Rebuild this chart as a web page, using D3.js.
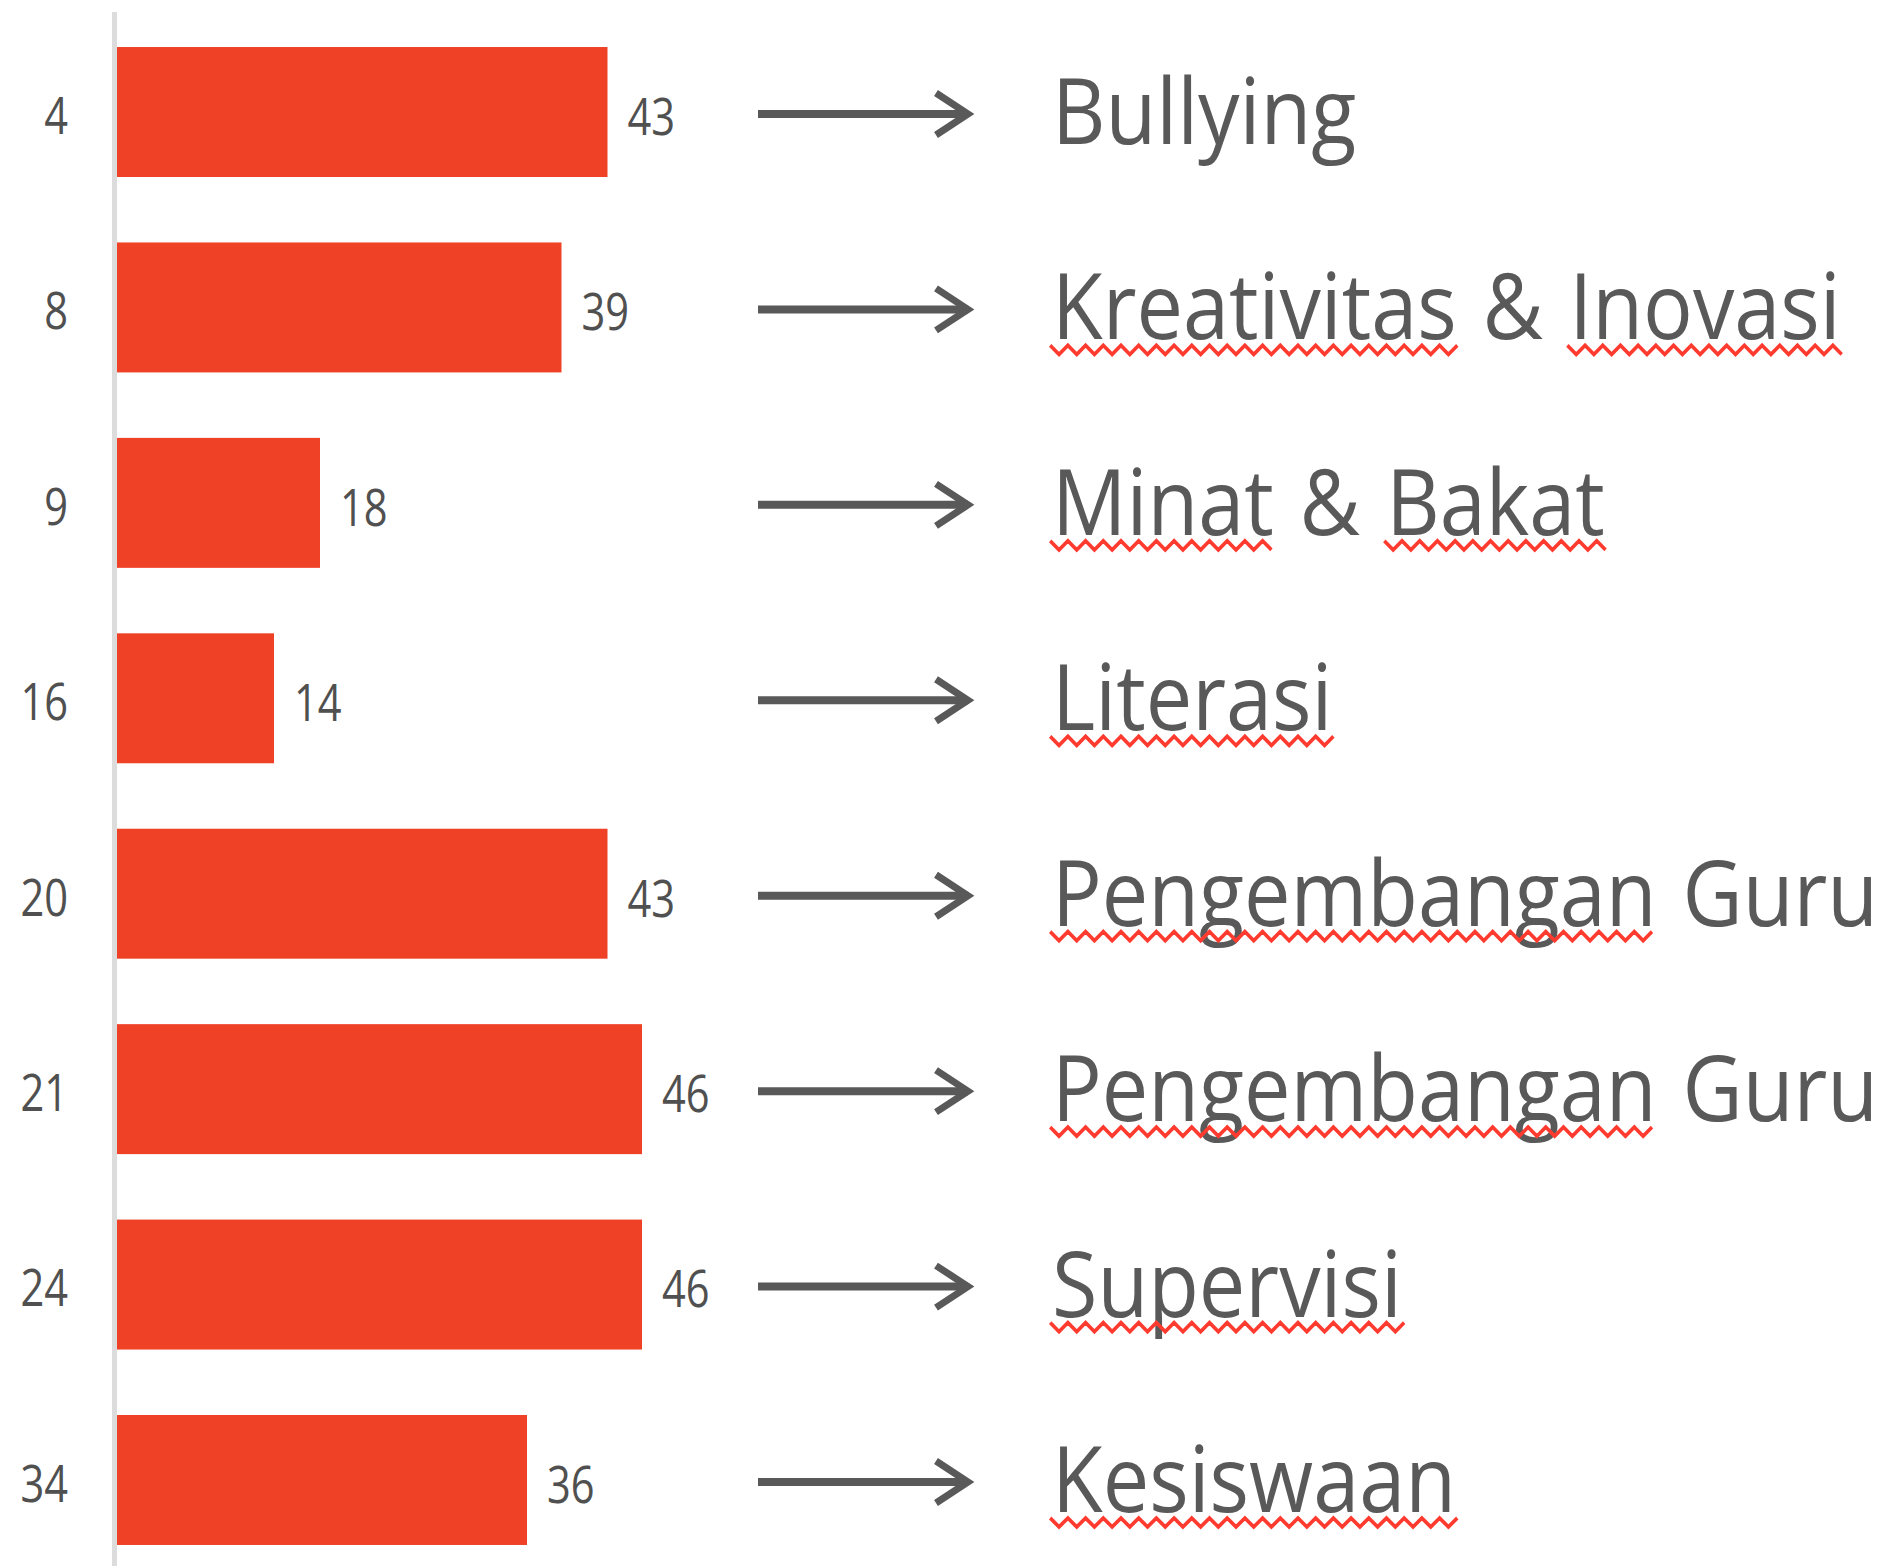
<!DOCTYPE html>
<html>
<head>
<meta charset="utf-8">
<script src="https://cdn.jsdelivr.net/npm/d3@7"></script>
<style>
  html, body { margin: 0; padding: 0; background: #ffffff; }
  svg { display: block; }
</style>
</head>
<body>
<script>
// Category ids shown on the left axis, one per bar
const categories = ["4", "8", "9", "16", "20", "21", "24", "34"];
// Bar values (also printed at the end of each bar)
const values = [43, 39, 18, 14, 43, 46, 46, 36];
// Topic text that each arrow points to
const topics = [
  "Bullying",
  "Kreativitas & Inovasi",
  "Minat & Bakat",
  "Literasi",
  "Pengembangan Guru",
  "Pengembangan Guru",
  "Supervisi",
  "Kesiswaan"
];
// Words marked with the red wavy proofing underline
const flaggedWords = ["Kreativitas", "Inovasi", "Minat", "Bakat", "Literasi",
                      "Pengembangan", "Supervisi", "Kesiswaan"];

const W = 1878, H = 1566;
const rows = categories.map((c, i) => ({ id: c, value: values[i], topic: topics[i] }));

const svg = d3.select("body").append("svg")
  .attr("width", W).attr("height", H)
  .attr("viewBox", `0 0 ${W} ${H}`);

svg.append("rect").attr("width", W).attr("height", H).attr("fill", "#ffffff");

const x = d3.scaleLinear().domain([0, 50]).range([113, 113 + 575]);
const y = d3.scaleBand()
  .domain(categories)
  .range([14.3, 1577.7])
  .paddingInner(0.335)
  .paddingOuter(0.1675);

const numFont = "'Open Sans', sans-serif";
const numSize = 52;
const numScale = 0.8;
const textColor = "#595959";
const numColor = "#505050";

// Bars
svg.append("g").selectAll("rect")
  .data(rows)
  .join("rect")
  .attr("x", x(0))
  .attr("y", d => y(d.id))
  .attr("width", d => x(d.value) - x(0))
  .attr("height", y.bandwidth())
  .attr("fill", "#ef4125");

// Vertical category axis (line + labels), drawn with d3.axisLeft
const axisG = svg.append("g")
  .attr("transform", `translate(${x(0) + 1.5},0)`)
  .call(d3.axisLeft(y).tickSize(0).tickPadding(0));
axisG.select(".domain").remove();
axisG.selectAll(".tick text").remove();
axisG.selectAll(".tick").each(function(d) {
  d3.select(this).append("text")
    .attr("transform", `translate(${68 - (x(0) + 1.5)},2) scale(${numScale},1)`)
    .attr("text-anchor", "end")
    .attr("dominant-baseline", "central")
    .attr("font-family", numFont)
    .attr("font-size", numSize)
    .attr("fill", numColor)
    .text(d);
});
svg.append("line")
  .attr("x1", 114.5).attr("x2", 114.5)
  .attr("y1", 12).attr("y2", H)
  .attr("stroke", "#dcdcdc")
  .attr("stroke-width", 5);

// Value labels at bar ends
svg.append("g").selectAll("text")
  .data(rows)
  .join("text")
  .attr("transform", d => `translate(${x(d.value) + 20},${y(d.id) + y.bandwidth() / 2 + 3}) scale(${numScale},1)`)
  .attr("dominant-baseline", "central")
  .attr("font-family", numFont)
  .attr("font-size", numSize)
  .attr("fill", numColor)
  .text(d => d.value);

// Arrows pointing to the topic text
const arrowG = svg.append("g").selectAll("g")
  .data(rows)
  .join("g")
  .attr("transform", d => `translate(0,${y(d.id) + y.bandwidth() / 2 + 2})`);
arrowG.append("line")
  .attr("x1", 758).attr("x2", 968)
  .attr("y1", 0).attr("y2", 0)
  .attr("stroke", "#595959")
  .attr("stroke-width", 8);
arrowG.append("path")
  .attr("d", "M936,-21 L968,0 L936,21")
  .attr("fill", "none")
  .attr("stroke", "#595959")
  .attr("stroke-width", 7)
  .attr("stroke-linejoin", "miter")
  .attr("stroke-miterlimit", 10);

// Topic text with wavy underline under flagged words
const topicScale = 0.91;
const topicSize = 91;
const topicG = svg.append("g").selectAll("g")
  .data(rows)
  .join("g")
  .attr("transform", d => `translate(1052,${y(d.id) + y.bandwidth() / 2}) scale(${topicScale},1)`);

topicG.each(function(d) {
  const g = d3.select(this);
  const baseline = 32;
  const t = g.append("text")
    .attr("x", 0).attr("y", baseline)
    .attr("font-family", "'Open Sans', sans-serif")
    .attr("font-size", topicSize)
    .attr("word-spacing", 5)
    .attr("fill", textColor)
    .text(d.topic);
  const node = t.node();
  const words = d.topic.split(" ");
  let idx = 0;
  words.forEach(w => {
    if (flaggedWords.includes(w)) {
      const x0 = node.getStartPositionOfChar(idx).x;
      const len = node.getSubStringLength(idx, w.length);
      const period = 17.7 / topicScale;
      const pts = [];
      let k = 0;
      for (let px = x0 - 2; px <= x0 + len + 4; px += period / 2) {
        pts.push([px, baseline + (k % 2 === 0 ? 6 : 15)]);
        k++;
      }
      g.append("path")
        .attr("d", d3.line()(pts))
        .attr("fill", "none")
        .attr("stroke", "#ff3b30")
        .attr("stroke-width", 3.8);
    }
    idx += w.length + 1;
  });
});
</script>
</body>
</html>
